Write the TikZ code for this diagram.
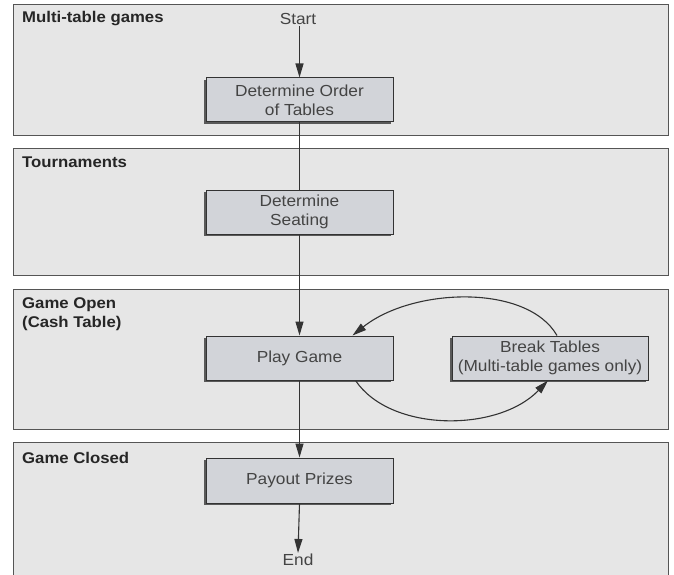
\documentclass[tikz,border=0pt]{standalone}
\usepackage{fontspec}
\setmainfont[FakeStretch=1.08]{Liberation Sans}
\usetikzlibrary{arrows.meta,shadows}
\definecolor{lanefill}{HTML}{E6E6E6}
\definecolor{laneline}{HTML}{555555}
\definecolor{boxfill}{HTML}{D2D4D9}
\definecolor{boxline}{HTML}{333333}
\definecolor{txt}{HTML}{444444}
\begin{document}
\begin{tikzpicture}[x=1pt,y=-1pt,
  lane/.style={draw=laneline,fill=lanefill,line width=1pt},
  lanelabel/.style={anchor=north west,inner sep=0pt,font=\fontsize{15.5}{19.5}\selectfont\bfseries,text=black!85,align=left},
  stepbox/.style={draw=boxline,fill=boxfill,line width=1pt,minimum width=187pt,minimum height=44pt,
     align=center,font=\fontsize{16}{19}\selectfont,text=txt,inner sep=1pt,
     drop shadow={shadow xshift=-1.6pt,shadow yshift=-1.6pt,fill=black!65,opacity=1}},
  endtext/.style={font=\fontsize{16}{19}\selectfont,text=txt,inner sep=1pt},
  arr/.style={draw=black!80,line width=1.1pt,-{Triangle[length=14pt,width=8pt]}},
  ln/.style={draw=black!80,line width=1.1pt}]
\useasboundingbox (0,0) rectangle (674,575);
\fill[white] (0,0) rectangle (674,575);
% lanes
\draw[lane] (13,5) rectangle (668,135);
\draw[lane] (13,148) rectangle (668,275);
\draw[lane] (13,289) rectangle (668,429);
\draw[lane] (13,442) rectangle (668,590);
\node[lanelabel] (l1) at (22,11) {Multi-table games};
\node[lanelabel] (l2) at (22,157) {Tournaments};
\node[lanelabel] (l3) at (22,297) {Game Open\\(Cash Table)};
\node[lanelabel] (l4) at (22,452) {Game Closed};
% nodes
\node[endtext] (start) at (298,19) {Start};
\node[stepbox] (order) at (299.5,100) {Determine Order\\of Tables};
\node[stepbox] (seat) at (299.5,212) {Determine\\Seating};
\node[stepbox] (play) at (299.5,358) {Play Game};
\node[stepbox,minimum width=196pt] (brk) at (550,358) {Break Tables\\(Multi-table games only)};
\node[stepbox,minimum height=45pt] (pay) at (299.5,480.5) {Payout Prizes};
\node[endtext] (end) at (298,560) {End};
% connectors
\draw[arr] (start.south -| order.north) -- (order.north);
\draw[ln] (order.south) -- (seat.north);
\draw[arr] (seat.south) -- (play.north);
\draw[arr] (play.south) -- (pay.north);
\draw[arr] (pay.south) -- (end.north);
\draw[arr] ([xshift=56pt]play.south) .. controls +(35,52) and +(-50,52) .. ([xshift=-2pt]brk.south);
\draw[arr] ([xshift=7pt]brk.north) .. controls +(-30,-52) and +(60,-48) .. ([xshift=53pt]play.north);
\end{tikzpicture}
\end{document}
